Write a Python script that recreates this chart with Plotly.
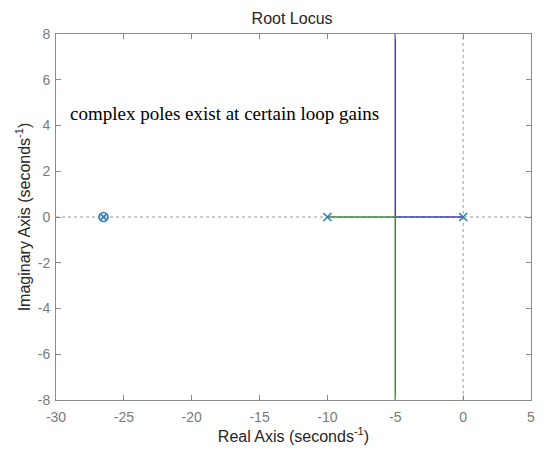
import plotly.graph_objects as go

# Open-loop poles and zeros
pole_re = [0, -10]
pole_im = [0, 0]
zero_re = [-26.5]
zero_im = [0]

# Root locus branches (real part, imaginary part)
branch1_re = [0, -5, -5]
branch1_im = [0, 0, 8.5]
branch2_re = [-10, -5, -5]
branch2_im = [0, 0, -8.5]

x_ticks = [-30, -25, -20, -15, -10, -5, 0, 5]
y_ticks = [-8, -6, -4, -2, 0, 2, 4, 6, 8]

grey = '#8a8a8a'

fig = go.Figure()

# dotted reference axes
fig.add_scatter(x=[-30, 5], y=[0, 0], mode='lines',
                line=dict(color='#9a9a9a', width=1, dash='dot'), hoverinfo='skip')
fig.add_scatter(x=[0, 0], y=[-8, 8], mode='lines',
                line=dict(color='#9a9a9a', width=1, dash='dot'), hoverinfo='skip')

fig.add_scatter(x=branch1_re, y=branch1_im, mode='lines', line=dict(color='#3d3db5', width=1.5))
fig.add_scatter(x=branch2_re, y=branch2_im, mode='lines', line=dict(color='#3a8a3a', width=1.5))

fig.add_scatter(x=pole_re, y=pole_im, mode='markers',
                marker=dict(symbol='x-thin', size=8, line=dict(color='#2f7bb0', width=1.6)))
fig.add_scatter(x=zero_re, y=zero_im, mode='markers',
                marker=dict(symbol='circle-x-open', size=9, color='#2f7bb0', line=dict(width=1.6)))

fig.add_annotation(x=-29.1, y=4.54, xanchor='left', yanchor='middle', showarrow=False,
                   text='complex poles exist at certain loop gains',
                   font=dict(family='Liberation Serif', size=19, color='black'))

axis_common = dict(showline=True, linecolor=grey, linewidth=1, mirror='ticks',
                   ticks='inside', ticklen=5, tickcolor=grey, showgrid=False, zeroline=False,
                   tickfont=dict(family='Liberation Sans', size=14, color='#7a7a7a'))

fig.update_xaxes(range=[-30, 5], tickvals=x_ticks, ticktext=[str(v) for v in x_ticks],
                 ticklabelstandoff=4,
                 title=dict(text='Real Axis (seconds<sup>-1</sup>)', standoff=5,
                            font=dict(family='Liberation Sans', size=16, color='#262626')),
                 **axis_common)
fig.update_yaxes(range=[-8, 8], tickvals=y_ticks, ticktext=[str(v) for v in y_ticks],
                 ticklabelstandoff=2,
                 title=dict(text='Imaginary Axis (seconds<sup>-1</sup>)', standoff=3,
                            font=dict(family='Liberation Sans', size=16, color='#262626')),
                 **axis_common)

fig.update_traces(showlegend=False)
# page body has an 8px margin, so the figure is sized to fit inside the window
fig.update_layout(
    width=534, height=442,
    margin=dict(l=48, r=11, t=26, b=50, autoexpand=False),
    paper_bgcolor='white', plot_bgcolor='white',
    title=dict(text='Root Locus', x=0.532, xanchor='center', y=0.977, yanchor='middle',
               font=dict(family='Liberation Sans', size=16, color='#262626')),
)

fig.write_html("out.html")
